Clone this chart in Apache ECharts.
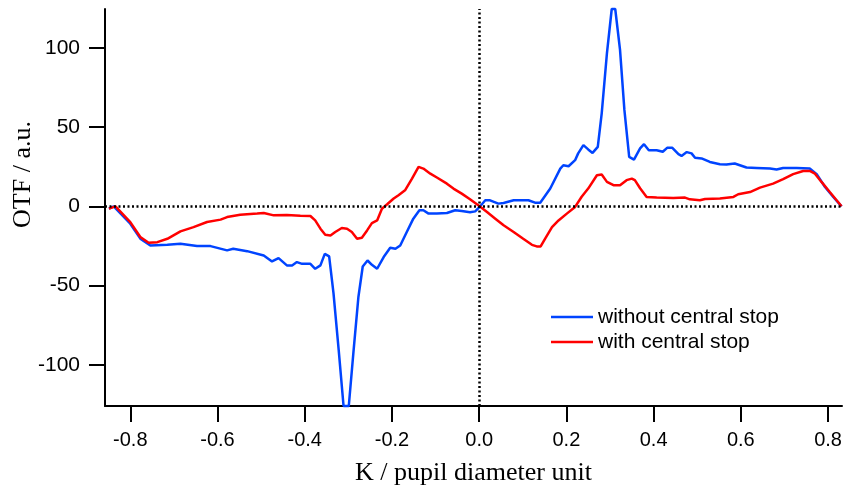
<!DOCTYPE html>
<html>
<head>
<meta charset="utf-8">
<script src="https://cdn.jsdelivr.net/npm/echarts@6/dist/echarts.min.js"></script>
<style>
  html, body { margin: 0; padding: 0; background: #fff; }
  #chart { width: 843px; height: 489px; }
</style>
</head>
<body>
<div id="chart"></div>
<script>
// K positions (pupil diameter units) and OTF values
const blueK = [-0.849, -0.838, -0.800, -0.777, -0.754, -0.715, -0.685, -0.647, -0.616, -0.578,
  -0.564, -0.532, -0.494, -0.475, -0.460, -0.441, -0.429, -0.418, -0.406, -0.387,
  -0.376, -0.364, -0.354, -0.344, -0.334, -0.322, -0.311, -0.299, -0.288, -0.277,
  -0.267, -0.256, -0.246, -0.234, -0.219, -0.204, -0.192, -0.181, -0.166, -0.151,
  -0.137, -0.128, -0.116, -0.097, -0.074, -0.055, -0.040, -0.021, -0.009, 0.001,
  0.014, 0.025, 0.044, 0.056, 0.079, 0.094, 0.113, 0.128, 0.140, 0.163,
  0.186, 0.193, 0.205, 0.220, 0.227, 0.239, 0.250, 0.260, 0.272, 0.281,
  0.293, 0.304, 0.312, 0.323, 0.333, 0.344, 0.355, 0.369, 0.378, 0.389,
  0.407, 0.421, 0.431, 0.443, 0.457, 0.464, 0.476, 0.487, 0.495, 0.510,
  0.529, 0.552, 0.567, 0.586, 0.613, 0.636, 0.667, 0.682, 0.697, 0.728,
  0.758, 0.774, 0.793, 0.812, 0.831];
const blueOTF = [-1.5, 0, -11, -20.4, -24.7, -24.3, -23.6, -25.1, -25.1, -27.8,
  -26.8, -28.3, -31, -34.8, -32.7, -37.3, -37.3, -35.2, -36.3, -36.3,
  -39.4, -37.3, -30, -31.6, -55, -91, -126, -126, -91, -57.4,
  -38, -34.2, -36.9, -39.4, -32, -26.2, -26.8, -24.7, -16.2, -7.8,
  -2.5, -2.5, -4.6, -4.6, -4.2, -2.5, -3, -3.8, -3.2, -0.4,
  3.8, 3.8, 1.7, 2.1, 3.8, 3.8, 3.8, 2.3, 2.3, 11.2,
  23.8, 25.9, 25.3, 29.1, 33.4, 38.6, 35.9, 33.7, 37.5, 58.7,
  96.6, 124.5, 124.5, 98.7, 60.8, 31.2, 29.5, 36.5, 39.2, 35.4,
  35.4, 34.4, 36.9, 36.9, 32.9, 31.8, 34.2, 33.4, 30.6, 30.2,
  28, 26.6, 26.4, 27, 24.5, 24.2, 23.8, 23.2, 24.2, 24.2,
  23.8, 20.3, 12.2, 5.9, 0];

const redK = [-0.849, -0.834, -0.800, -0.777, -0.758, -0.738, -0.715, -0.685, -0.655, -0.624,
  -0.593, -0.578, -0.548, -0.509, -0.494, -0.471, -0.441, -0.410, -0.387, -0.376,
  -0.364, -0.353, -0.341, -0.330, -0.315, -0.303, -0.292, -0.280, -0.269, -0.257,
  -0.246, -0.234, -0.223, -0.211, -0.196, -0.185, -0.170, -0.154, -0.139, -0.128,
  -0.112, -0.097, -0.074, -0.059, -0.040, -0.021, 0.001, 0.018, 0.037, 0.056,
  0.079, 0.101, 0.121, 0.132, 0.141, 0.151, 0.167, 0.182, 0.201, 0.220,
  0.235, 0.250, 0.270, 0.281, 0.293, 0.308, 0.323, 0.338, 0.350, 0.357,
  0.369, 0.384, 0.407, 0.445, 0.472, 0.483, 0.506, 0.518, 0.552, 0.583,
  0.594, 0.621, 0.644, 0.674, 0.697, 0.720, 0.743, 0.758, 0.770, 0.785,
  0.804, 0.831];
const redOTF = [-1.5, 0, -10, -19.4, -23, -22.6, -20.5, -15.8, -13.1, -9.9,
  -8.4, -6.8, -5.3, -4.6, -4.2, -5.7, -5.5, -5.9, -6.1, -8.9,
  -14.1, -17.9, -18.4, -16.2, -13.7, -14.1, -16.2, -20.5, -19.8, -15.2,
  -10.6, -8.9, -1.5, 1.3, 4.9, 7, 10.1, 17.5, 24.9, 23.8,
  20.6, 18.2, 14.3, 11.2, 8, 4.4, 0, -3.6, -7.8, -12,
  -16.2, -20.5, -24.3, -25.3, -25.3, -20.5, -13.1, -8.9, -4.6, -0.4,
  6, 11.2, 19.6, 20.1, 15.4, 13.3, 13.3, 16.5, 17.5, 16.5,
  11.4, 5.9, 5.5, 5.3, 5.5, 4.4, 3.8, 4.6, 4.9, 5.9,
  7.6, 9, 11.8, 14.3, 17.1, 20.3, 22.3, 22.3, 20.6, 15.4,
  9, 0];

const xTicks = [-0.8, -0.6, -0.4, -0.2, 0, 0.2, 0.4, 0.6, 0.8];
const yTicks = [-100, -50, 0, 50, 100];

const chart = echarts.init(document.getElementById('chart'));

const pairs = (xs, ys) => xs.map((x, i) => [x, ys[i]]);

const axisLine = { onZero: false, lineStyle: { color: '#000', width: 2 } };

const option = {
  animation: false,
  grid: { left: 105, right: 1, top: 9, bottom: 83, outerBoundsMode: 'none' },
  legend: {
    orient: 'vertical',
    left: 546,
    top: 301,
    icon: 'rect',
    itemWidth: 42,
    itemHeight: 2.5,
    itemGap: 3,
    textStyle: { fontFamily: 'Liberation Sans', fontSize: 21, color: '#000', lineHeight: 22 },
    data: ['without central stop', 'with central stop']
  },
  xAxis: {
    type: 'value',
    min: -0.858,
    max: 0.832,
    splitLine: { show: false },
    axisLine: axisLine,
    axisTick: { length: 16, lineStyle: { color: '#000', width: 2 }, customValues: xTicks },
    axisLabel: {
      customValues: xTicks,
      formatter: v => v.toFixed(1),
      fontFamily: 'Liberation Sans', fontSize: 20, color: '#000', margin: 24
    },
    name: 'K / pupil diameter unit',
    nameLocation: 'middle',
    nameGap: 54,
    nameMoveOverlap: false,
    nameTextStyle: { fontFamily: 'Liberation Serif', fontSize: 26, color: '#000' }
  },
  yAxis: {
    type: 'value',
    min: -126,
    max: 124.5,
    splitLine: { show: false },
    axisLine: axisLine,
    axisTick: { length: 16, lineStyle: { color: '#000', width: 2 }, customValues: yTicks },
    axisLabel: {
      customValues: yTicks,
      fontFamily: 'Liberation Sans', fontSize: 21, color: '#000', margin: 25
    },
    name: 'OTF / a.u.',
    nameLocation: 'middle',
    nameGap: 69,
    nameMoveOverlap: false,
    nameTextStyle: { fontFamily: 'Liberation Serif', fontSize: 26, color: '#000', padding: [0, 0, 0, 66] }
  },
  series: [
    {
      name: 'without central stop',
      type: 'line',
      symbol: 'none',
      clip: false,
      data: pairs(blueK, blueOTF),
      lineStyle: { color: '#0044ff', width: 2.5 },
      itemStyle: { color: '#0044ff' },
      markLine: {
        silent: true,
        symbol: 'none',
        label: { show: false },
        lineStyle: { color: '#000', width: 2.5, type: [2, 2.5] },
        data: [{ yAxis: 0 }, { xAxis: 0 }]
      }
    },
    {
      name: 'with central stop',
      type: 'line',
      symbol: 'none',
      clip: false,
      data: pairs(redK, redOTF),
      lineStyle: { color: '#ff0000', width: 2.5 },
      itemStyle: { color: '#ff0000' }
    }
  ]
};

chart.setOption(option);
</script>
</body>
</html>
